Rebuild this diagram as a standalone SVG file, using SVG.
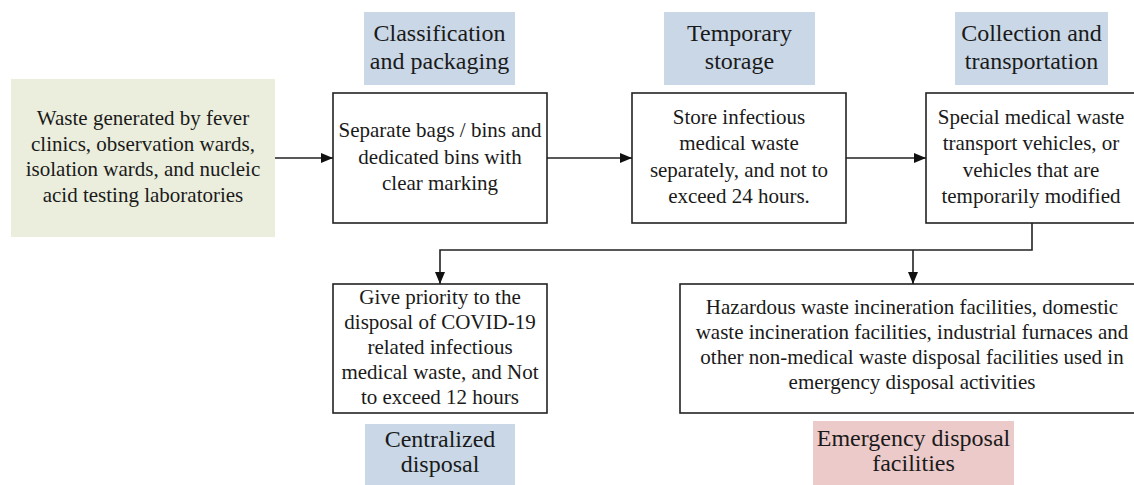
<svg xmlns="http://www.w3.org/2000/svg" width="1134" height="485" viewBox="0 0 1134 485">
  <defs>
    <style>
      .box { fill: #ffffff; stroke: #222222; stroke-width: 1.6; }
      .src { fill: #ebeedd; }
      .lblb { fill: #c9d7e6; }
      .lblp { fill: #eccaca; }
      .t { font-family: "Liberation Serif", "Times New Roman", serif; font-size: 21px; fill: #1a1a1a; text-anchor: middle; }
      .l { font-family: "Liberation Serif", "Times New Roman", serif; font-size: 24px; fill: #1a1a1a; text-anchor: middle; }
      .c { fill: none; stroke: #222222; stroke-width: 1.6; }
    </style>
    <marker id="ah" viewBox="0 0 12 10" refX="12" refY="5" markerWidth="12" markerHeight="10" markerUnits="userSpaceOnUse" orient="auto">
      <path d="M0,0 L12,5 L0,10 Z" fill="#111111"/>
    </marker>
  </defs>
  <rect width="1134" height="485" fill="#ffffff"/>

  <g id="source">
    <rect class="src" x="11" y="79" width="264" height="158"/>
    <text class="t" x="143" y="125">Waste generated by fever</text>
    <text class="t" x="143" y="150.5">clinics, observation wards,</text>
    <text class="t" x="143" y="176">isolation wards, and nucleic</text>
    <text class="t" x="143" y="201.5">acid testing laboratories</text>
  </g>

  <g id="label-classification">
    <rect class="lblb" x="364" y="12" width="151" height="73"/>
    <text class="l" x="439.5" y="41">Classification</text>
    <text class="l" x="439.5" y="69">and packaging</text>
  </g>

  <g id="classification">
    <rect class="box" x="333" y="93" width="214" height="130"/>
    <text class="t" x="440" y="137">Separate bags / bins and</text>
    <text class="t" x="440" y="163.5">dedicated bins with</text>
    <text class="t" x="440" y="190">clear marking</text>
  </g>

  <g id="label-temporary">
    <rect class="lblb" x="664" y="12" width="151" height="73"/>
    <text class="l" x="739.5" y="41">Temporary</text>
    <text class="l" x="739.5" y="69">storage</text>
  </g>

  <g id="temporary">
    <rect class="box" x="632" y="93" width="214" height="130"/>
    <text class="t" x="739" y="124">Store infectious</text>
    <text class="t" x="739" y="150">medical waste</text>
    <text class="t" x="739" y="176.5">separately, and not to</text>
    <text class="t" x="739" y="202.5">exceed 24 hours.</text>
  </g>

  <g id="label-collection">
    <rect class="lblb" x="955" y="12" width="153" height="73"/>
    <text class="l" x="1031.5" y="41">Collection and</text>
    <text class="l" x="1031.5" y="69">transportation</text>
  </g>

  <g id="collection">
    <rect class="box" x="926" y="93" width="214" height="130"/>
    <text class="t" x="1031" y="124">Special medical waste</text>
    <text class="t" x="1031" y="150">transport vehicles, or</text>
    <text class="t" x="1031" y="176.5">vehicles that are</text>
    <text class="t" x="1031" y="202.5">temporarily modified</text>
  </g>

  <g id="centralized">
    <rect class="box" x="333" y="284" width="214" height="129"/>
    <text class="t" x="440" y="304">Give priority to the</text>
    <text class="t" x="440" y="329">disposal of COVID-19</text>
    <text class="t" x="440" y="354">related infectious</text>
    <text class="t" x="440" y="379">medical waste, and Not</text>
    <text class="t" x="440" y="404">to exceed 12 hours</text>
  </g>

  <g id="label-centralized">
    <rect class="lblb" x="365" y="424" width="150" height="61"/>
    <text class="l" x="440" y="447">Centralized</text>
    <text class="l" x="440" y="472">disposal</text>
  </g>

  <g id="emergency">
    <rect class="box" x="680" y="284" width="466" height="129"/>
    <text class="t" x="912" y="314">Hazardous waste incineration facilities, domestic</text>
    <text class="t" x="912" y="339">waste incineration facilities, industrial furnaces and</text>
    <text class="t" x="912" y="364">other non-medical waste disposal facilities used in</text>
    <text class="t" x="912" y="389">emergency disposal activities</text>
  </g>

  <g id="label-emergency">
    <rect class="lblp" x="813" y="421" width="201" height="64"/>
    <text class="l" x="913.5" y="446">Emergency disposal</text>
    <text class="l" x="913.5" y="471">facilities</text>
  </g>

  <g id="connectors">
    <line class="c" x1="275" y1="158" x2="333" y2="158" marker-end="url(#ah)"/>
    <line class="c" x1="547" y1="158" x2="632" y2="158" marker-end="url(#ah)"/>
    <line class="c" x1="846" y1="158" x2="926" y2="158" marker-end="url(#ah)"/>
    <polyline class="c" points="1032,223 1032,250 440,250 440,284" marker-end="url(#ah)"/>
    <line class="c" x1="913" y1="250" x2="913" y2="284" marker-end="url(#ah)"/>
  </g>
</svg>
